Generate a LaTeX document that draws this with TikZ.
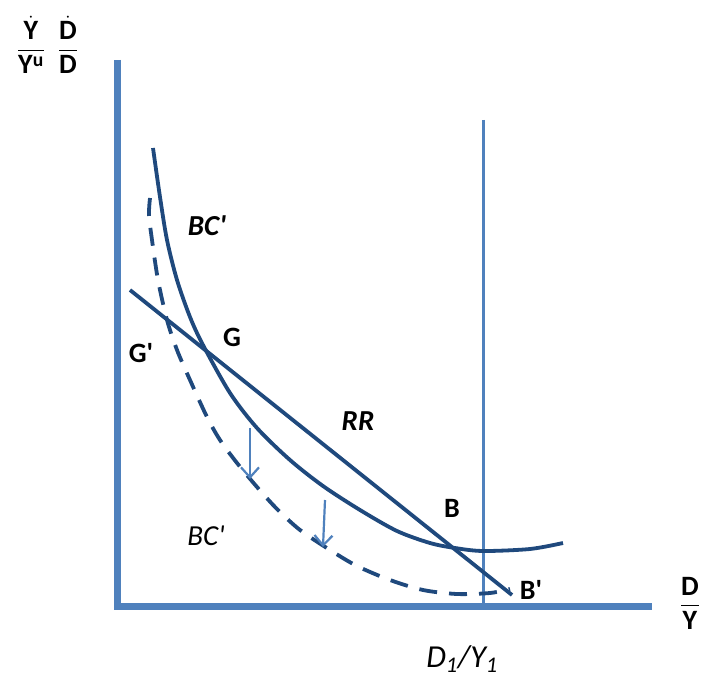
\documentclass[tikz,border=0pt]{standalone}
\usepackage{amsmath}
\usepackage{fontspec}
\setmainfont{Carlito}
\usetikzlibrary{arrows.meta}
\definecolor{darkc}{RGB}{31,73,125}
\definecolor{lightc}{RGB}{79,129,189}
\newcommand{\pr}{\textquotesingle}
\tikzset{
  axisline/.style={lightc, line width=7pt},
  vline/.style={lightc, line width=3pt},
  curve/.style={darkc, line width=3.8pt},
  dcurve/.style={darkc, line width=3.8pt, dash pattern=on 18pt off 12pt},
  shiftarrow/.style={lightc, line width=2.2pt, -{Straight Barb[length=10pt,width=18pt,line width=2.2pt]}},
  lbl/.style={font=\fontsize{28}{32}\selectfont\bfseries, inner sep=0pt},
  blbl/.style={font=\fontsize{29}{32}\selectfont\bfseries\itshape, inner sep=0pt},
  ilbl/.style={font=\fontsize{29}{32}\selectfont\itshape, inner sep=0pt},
}
\begin{document}
\begin{tikzpicture}[x=1pt, y=-1pt]
\useasboundingbox (0,0) rectangle (712,684);
\fill[white] (0,0) rectangle (712,684);
% axes
\coordinate (ytop) at (117,60);
\coordinate (orig) at (117,606);
\coordinate (xend) at (652,606);
\draw[axisline] (ytop) -- (orig) -- (xend);
% vertical line
\coordinate (vt) at (483,120);
\coordinate (vb) at (483,603);
\draw[vline] (vt) -- (vb);
% solid BC curve
\draw[curve] plot[smooth, tension=0.5] coordinates {(153,148) (160,197) (167,240) (177,280) (190,317) (203,345) (230,393) (257,428) (290,460) (323,486) (360,510) (397,531) (430,543) (455,548) (483,551) (530,549) (563,543)};
% dashed curve
\draw[dcurve] plot[smooth, tension=0.5] coordinates {(150,198) (149,215) (152,240) (158,280) (167,320) (177,350) (190,380) (207,417) (220,440) (237,463) (257,487) (277,509) (300,530) (330,550) (357,566) (390,580) (423,590) (457,594) (490,593) (510,589)};
% RR line
\coordinate (rr1) at (130,290);
\coordinate (rr2) at (512,595);
\draw[curve] (rr1) -- (rr2);
% shift arrows
\coordinate (a1s) at (250,428);
\coordinate (a1e) at (250,479);
\coordinate (a2s) at (325,500);
\coordinate (a2e) at (323,547);
\draw[shiftarrow] (a1s) -- (a1e);
\draw[shiftarrow] (a2s) -- (a2e);
% labels
\node[blbl] (bct) at (207,226) {BC\pr};
\node[lbl] (g) at (232,337) {G};
\node[lbl] (gp) at (141,353) {G\pr};
\node[blbl] (rr) at (358,421) {RR};
\node[lbl] (b) at (452,508) {B};
\node[lbl] (bp) at (531,590) {B\pr};
\node[ilbl] (bcb) at (206,536) {BC\pr};
\node[ilbl, font=\fontsize{32}{36}\selectfont\itshape] (dy) at (462,659) {D\textsubscript{1}/Y\textsubscript{1}};
\node[inner sep=0pt] (ylab1) at (31,45) {\fontsize{28}{32}\selectfont$\displaystyle\frac{\dot{\mathbf{Y}}}{\mathbf{Y}^{\mathbf{u}}}$};
\node[inner sep=0pt] (ylab2) at (68,45) {\fontsize{28}{32}\selectfont$\displaystyle\frac{\dot{\mathbf{D}}}{\mathbf{D}}$};
\node[inner sep=0pt] (xlab) at (690,603) {\fontsize{28}{32}\selectfont$\displaystyle\frac{\mathbf{D}}{\mathbf{Y}}$};
\end{tikzpicture}
\end{document}
